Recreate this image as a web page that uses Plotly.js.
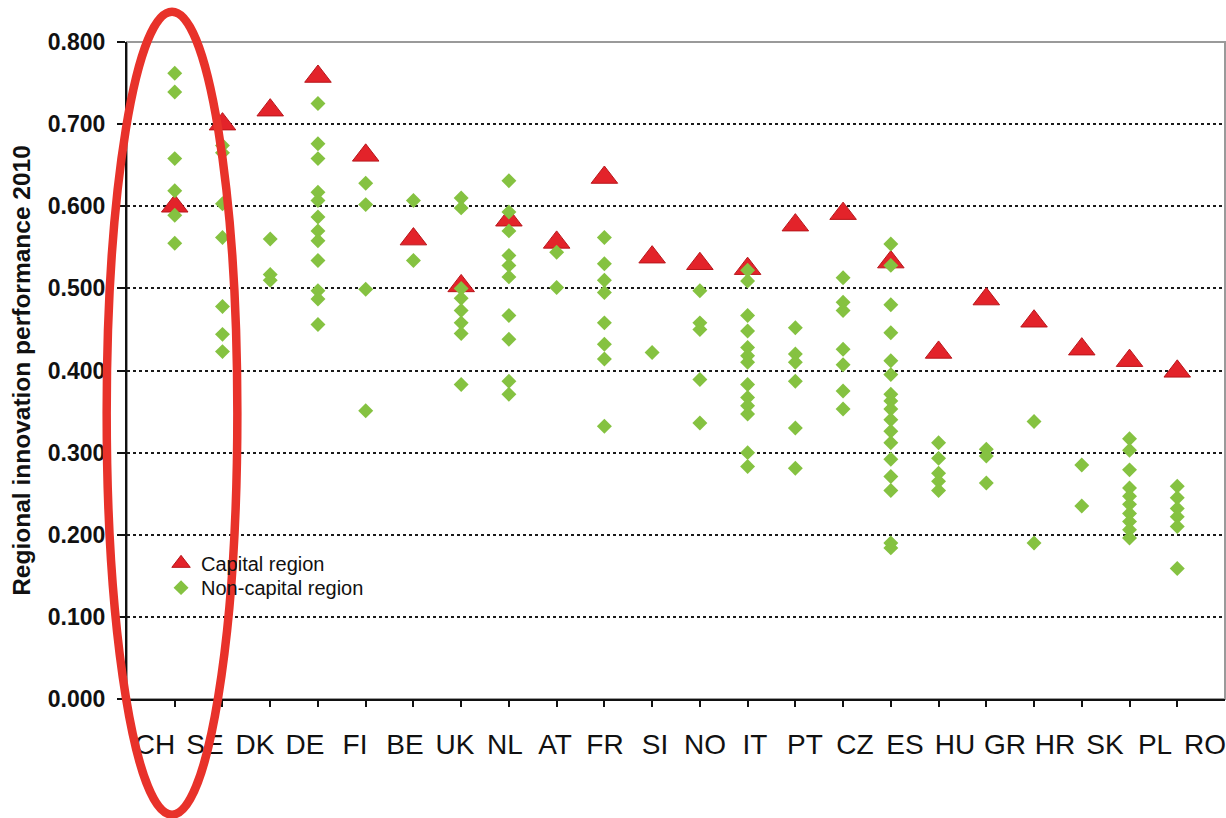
<!DOCTYPE html>
<html>
<head>
<meta charset="utf-8">
<script src="https://cdn.plot.ly/plotly-3.0.1.min.js"></script>
<style>html,body{margin:0;padding:0;background:#fff;}#chart{width:1226px;height:818px;}</style>
</head>
<body>
<div id="chart"></div>
<script>
// Country codes (x categories)
const countries = ["CH","SE","DK","DE","FI","BE","UK","NL","AT","FR","SI","NO","IT","PT","CZ","ES","HU","GR","HR","SK","PL","RO"];

// Capital region performance, one per country
const capitalValues = [0.600,0.700,0.717,0.758,0.662,0.560,0.503,0.583,0.556,0.635,0.538,0.530,0.524,0.577,0.591,0.532,0.422,0.487,0.460,0.426,0.412,0.399];

// Non-capital regions, per country
const nc_CH = [0.762,0.739,0.658,0.619,0.589,0.555];
const nc_SE = [0.674,0.665,0.603,0.562,0.478,0.444,0.423];
const nc_DK = [0.560,0.517,0.510];
const nc_DE = [0.725,0.676,0.658,0.617,0.607,0.587,0.570,0.558,0.534,0.497,0.487,0.456];
const nc_FI = [0.628,0.602,0.499,0.351];
const nc_BE = [0.607,0.534];
const nc_UK = [0.610,0.598,0.500,0.488,0.473,0.458,0.445,0.383];
const nc_NL = [0.631,0.593,0.570,0.540,0.528,0.514,0.467,0.438,0.387,0.371];
const nc_AT = [0.544,0.501];
const nc_FR = [0.562,0.530,0.510,0.495,0.458,0.432,0.414,0.332];
const nc_SI = [0.422];
const nc_NO = [0.497,0.458,0.450,0.389,0.336];
const nc_IT = [0.522,0.509,0.467,0.448,0.428,0.418,0.410,0.383,0.367,0.357,0.347,0.300,0.283];
const nc_PT = [0.452,0.420,0.410,0.387,0.330,0.281];
const nc_CZ = [0.513,0.483,0.473,0.426,0.407,0.375,0.353];
const nc_ES = [0.554,0.528,0.480,0.446,0.412,0.395,0.371,0.363,0.353,0.340,0.326,0.312,0.292,0.271,0.254,0.190,0.184];
const nc_HU = [0.312,0.293,0.275,0.265,0.254];
const nc_GR = [0.304,0.296,0.263];
const nc_HR = [0.338,0.190];
const nc_SK = [0.285,0.235];
const nc_PL = [0.317,0.303,0.279,0.257,0.247,0.237,0.226,0.216,0.206,0.196];
const nc_RO = [0.259,0.245,0.232,0.222,0.210,0.159];

const nonCapitalByCountry = [nc_CH,nc_SE,nc_DK,nc_DE,nc_FI,nc_BE,nc_UK,nc_NL,nc_AT,nc_FR,nc_SI,nc_NO,nc_IT,nc_PT,nc_CZ,nc_ES,nc_HU,nc_GR,nc_HR,nc_SK,nc_PL,nc_RO];

const ncX = [], ncY = [];
nonCapitalByCountry.forEach((vals, i) => {
  vals.forEach(v => { ncX.push(countries[i]); ncY.push(v); });
});

const FONT = "Liberation Sans, Arial, Helvetica, sans-serif";
const legendFont = {family: FONT, size: 20, color: "#111"};

const traces = [
  {
    type: "scatter", mode: "markers", name: "Capital region",
    x: countries, y: capitalValues, legend: "legend",
    marker: {symbol: "triangle-up", size: 23, color: "#e3232a", line: {color: "#b8161b", width: 1}},
    hoverinfo: "x+y"
  },
  {
    type: "scatter", mode: "markers", name: "Non-capital region",
    x: ncX, y: ncY, legend: "legend2",
    marker: {symbol: "diamond", size: 11.5, color: "#85c241", line: {width: 0}},
    hoverinfo: "x+y"
  },
  {
    type: "scatter", mode: "markers", x: countries, y: countries.map(() => null),
    xaxis: "x2", yaxis: "y", showlegend: false, hoverinfo: "skip",
    marker: {opacity: 0}
  }
];

const layout = {
  width: 1226, height: 818,
  margin: {l: 127, r: 1, t: 42, b: 119, pad: 0},
  paper_bgcolor: "#ffffff", plot_bgcolor: "#ffffff",
  font: {family: FONT, color: "#111"},
  showlegend: true,
  legend: {
    x: 0.031, y: 0.2065, xanchor: "left", yanchor: "middle",
    bgcolor: "rgba(0,0,0,0)", borderwidth: 0, font: legendFont
  },
  legend2: {
    x: 0.031, y: 0.1695, xanchor: "left", yanchor: "middle",
    bgcolor: "rgba(0,0,0,0)", borderwidth: 0, font: legendFont
  },
  xaxis: {
    type: "category", categoryarray: countries, categoryorder: "array",
    range: [-1, 22],
    showgrid: false, zeroline: false,
    showline: true, linecolor: "#111", linewidth: 2,
    ticks: "outside", ticklen: 6, tickwidth: 2, tickcolor: "#111",
    showticklabels: false, fixedrange: true
  },
  xaxis2: {
    type: "category", categoryarray: countries, categoryorder: "array",
    overlaying: "x", anchor: "y", side: "bottom",
    range: [-0.56, 21.4],
    showgrid: false, zeroline: false, showline: false,
    ticks: "", showticklabels: true,
    tickfont: {family: FONT, size: 28, color: "#111"},
    ticklabelstandoff: 26, fixedrange: true
  },
  yaxis: {
    range: [0, 0.8], dtick: 0.1, tick0: 0, tickformat: ".3f",
    showgrid: true, gridcolor: "#1a1a1a", gridwidth: 2, griddash: "dot",
    zeroline: false,
    showline: true, linecolor: "#111", linewidth: 2,
    ticks: "outside", ticklen: 8, tickwidth: 2, tickcolor: "#111",
    tickfont: {family: FONT, size: 23, color: "#111", weight: "bold"},
    ticklabelstandoff: 7,
    title: {text: "Regional innovation performance 2010", font: {family: FONT, size: 24.5, color: "#111", weight: "bold"}, standoff: 10},
    fixedrange: true
  },
  shapes: [
    {type: "rect", xref: "paper", yref: "paper", x0: 0, x1: 1, y0: 0, y1: 1,
     line: {color: "#9a9a9a", width: 2}, layer: "below"},
    {type: "circle", xref: "paper", yref: "paper",
     x0: -0.0185, x1: 0.1005, y0: -0.176, y1: 1.046,
     line: {color: "#e8322a", width: 8.5}, layer: "above"}
  ]
};

Plotly.newPlot("chart", traces, layout, {displayModeBar: false, staticPlot: true});
</script>
</body>
</html>
